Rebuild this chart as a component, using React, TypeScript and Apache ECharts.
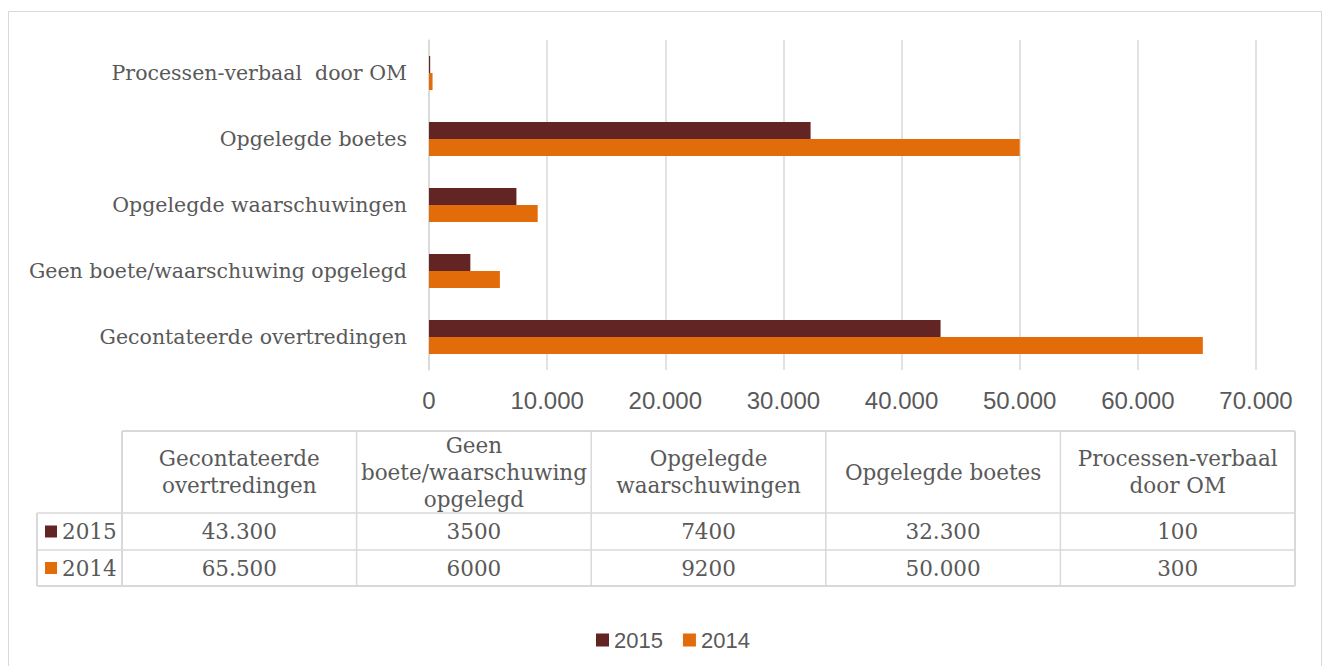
import React, { useEffect, useRef } from "react";
import * as echarts from "echarts";

const categories = [
  "Gecontateerde overtredingen",
  "Geen boete/waarschuwing opgelegd",
  "Opgelegde waarschuwingen",
  "Opgelegde boetes",
  "Processen-verbaal  door OM",
];
const tableHeaders = [
  "Gecontateerde\novertredingen",
  "Geen\nboete/waarschuwing\nopgelegd",
  "Opgelegde\nwaarschuwingen",
  "Opgelegde boetes",
  "Processen-verbaal\ndoor OM",
];
const seriesNames = ["2015", "2014"];
const values2015 = [43300, 3500, 7400, 32300, 100];
const values2014 = [65500, 6000, 9200, 50000, 300];
const axisMax = 70000;
const axisInterval = 10000;

const DARK = "#632523";
const ORANGE = "#E36C0A";
const GRID = "#D9D9D9";
const TEXT = "#595959";
const SERIF = "'DejaVu Serif', Georgia, serif";
const SANS = "'Liberation Sans', Arial, sans-serif";

const fmtAxis = (v: number) =>
  v === 0 ? "0" : String(v).replace(/\B(?=(\d{3})+(?!\d))/g, ".");
const fmtTable = (v: number) =>
  v >= 10000 ? String(v).replace(/\B(?=(\d{3})+(?!\d))/g, ".") : String(v);

export default function App() {
  const ref = useRef<HTMLDivElement>(null);
  useEffect(() => {
    if (!ref.current) return;
    const chart = echarts.init(ref.current, undefined, { renderer: "svg" });

    const tLeft = 37;
    const colStart = 122;
    const tRight = 1295;
    const hTop = 431;
    const hBottom = 513;
    const r1Bottom = 550;
    const r2Bottom = 586;
    const colW = (tRight - colStart) / tableHeaders.length;
    const g: any[] = [];
    g.push({
      type: "rect",
      shape: { x: 8.5, y: 11.5, width: 1313, height: 670 },
      style: { fill: "none", stroke: GRID, lineWidth: 1 },
      silent: true,
      z: -1,
    });
    const line = (x1: number, y1: number, x2: number, y2: number, w = 1.5) =>
      g.push({
        type: "line",
        shape: { x1, y1, x2, y2 },
        style: { stroke: GRID, lineWidth: w },
        silent: true,
      });
    line(colStart, hTop, tRight, hTop, 2);
    line(tLeft, hBottom, tRight, hBottom);
    line(tLeft, r1Bottom, tRight, r1Bottom);
    line(tLeft, r2Bottom, tRight, r2Bottom, 2);
    line(tLeft, hBottom, tLeft, r2Bottom, 2);
    for (let i = 0; i <= tableHeaders.length; i++) {
      const x = colStart + i * colW;
      line(x, hTop, x, r2Bottom, i === 0 || i === tableHeaders.length ? 2 : 1.5);
    }
    tableHeaders.forEach((h, i) => {
      g.push({
        type: "text",
        x: colStart + (i + 0.5) * colW,
        y: (hTop + hBottom) / 2,
        style: {
          text: h,
          align: "center",
          verticalAlign: "middle",
          fill: TEXT,
          font: `21.5px ${SERIF}`,
          lineHeight: 27,
        },
        silent: true,
      });
    });
    const rows = [values2015, values2014];
    const colors = [DARK, ORANGE];
    const rowTops = [hBottom, r1Bottom];
    const rowBottoms = [r1Bottom, r2Bottom];
    rows.forEach((vals, r) => {
      const cy = (rowTops[r] + rowBottoms[r]) / 2;
      g.push({
        type: "rect",
        shape: { x: 45, y: cy - 6, width: 12, height: 12 },
        style: { fill: colors[r] },
        silent: true,
      });
      g.push({
        type: "text",
        x: 62,
        y: cy,
        style: {
          text: seriesNames[r],
          align: "left",
          verticalAlign: "middle",
          fill: TEXT,
          font: `21.5px ${SERIF}`,
        },
        silent: true,
      });
      vals.forEach((v, i) => {
        g.push({
          type: "text",
          x: colStart + (i + 0.5) * colW,
          y: cy,
          style: {
            text: fmtTable(v),
            align: "center",
            verticalAlign: "middle",
            fill: TEXT,
            font: `21.5px ${SERIF}`,
          },
          silent: true,
        });
      });
    });

    chart.setOption({
      animation: false,
      backgroundColor: "#ffffff",
      grid: { left: 429, right: 67, top: 40, height: 330, containLabel: false },
      legend: {
        data: seriesNames,
        left: 591,
        top: 624,
        icon: "rect",
        itemWidth: 13,
        itemHeight: 13,
        itemGap: 20,
        textStyle: { color: TEXT, fontFamily: SANS, fontSize: 22 },
      },
      xAxis: {
        type: "value",
        min: 0,
        max: axisMax,
        interval: axisInterval,
        axisLine: { show: false },
        axisTick: { show: false },
        splitLine: { show: true, lineStyle: { color: GRID, width: 1.5 } },
        axisLabel: {
          color: TEXT,
          fontFamily: SANS,
          fontSize: 24,
          margin: 18,
          formatter: (v: number) => fmtAxis(v),
        },
      },
      yAxis: {
        type: "category",
        data: categories,
        axisTick: { show: false },
        axisLine: { show: true, lineStyle: { color: GRID, width: 1.5 } },
        axisLabel: {
          color: TEXT,
          fontFamily: SERIF,
          fontSize: 20.5,
          margin: 22,
        },
      },
      series: [
        {
          name: "2015",
          type: "bar",
          data: values2015,
          barWidth: 17,
          barGap: "0%",
          itemStyle: { color: DARK },
        },
        {
          name: "2014",
          type: "bar",
          data: values2014,
          barWidth: 17,
          barGap: "0%",
          itemStyle: { color: ORANGE },
        },
      ],
      graphic: g,
    });
    return () => chart.dispose();
  }, []);
  return (
    <div
      ref={ref}
      style={{ position: "absolute", left: 0, top: 0, width: 1323, height: 666 }}
    />
  );
}
